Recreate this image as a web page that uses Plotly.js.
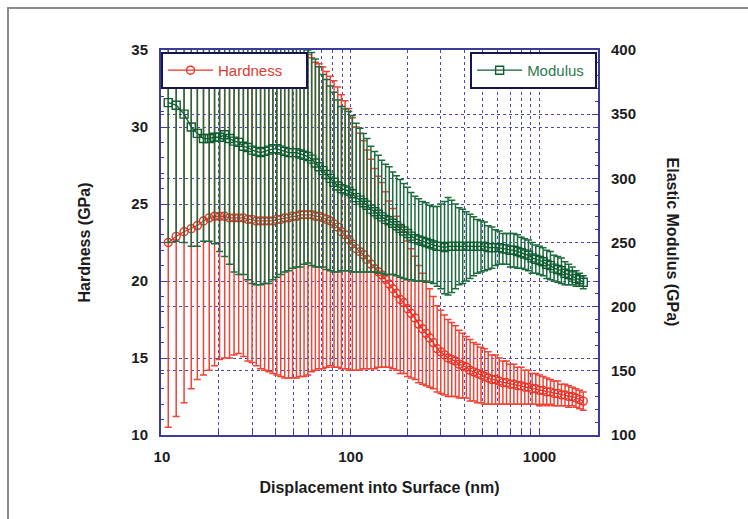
<!DOCTYPE html>
<html>
<head>
<meta charset="utf-8">
<script src="https://cdn.plot.ly/plotly-3.0.1.min.js"></script>
<style>
  html, body { margin:0; padding:0; background:#fff; overflow:hidden; }
  #chart { position:absolute; left:0; top:0; width:748px; height:519px; }
  #frame { position:absolute; left:7px; top:7px; width:900px; height:700px;
           border-top:2px solid #8c8c8c; border-left:2px solid #8c8c8c; pointer-events:none; }
</style>
</head>
<body>
<div id="chart"></div>
<div id="frame"></div>
<script>
// Displacement into surface (nm)
const displacement = [10.8,11.9,13.1,14.3,15.4,16.6,17.8,19.0,20.2,21.5,22.8,24.1,25.5,27.0,28.5,30.0,31.6,33.3,35.0,36.8,
  38.7,40.6,42.6,44.7,46.9,49.2,51.6,54.0,56.6,59.3,62.1,65.0,68.0,71.2,74.5,78.0,81.6,85.4,89.3,93.4,
  97.7,102,107,112,117,122,128,134,140,146,153,160,167,175,183,191,200,209,219,229,
  240,251,262,274,287,300,314,328,343,359,375,392,410,429,448,469,490,512,535,560,
  585,612,640,669,700,732,765,800,836,874,914,956,1000,1045,1093,1143,1195,1250,1307,1366,
  1428,1493,1561,1632,1706];

// Hardness (GPa) and its error
const hardness = [22.5,22.9,23.2,23.4,23.6,23.9,24.1,24.2,24.2,24.2,24.1,24.1,24.1,24.1,24.0,24.0,23.9,23.9,23.9,23.9,
  23.9,24.0,24.0,24.1,24.1,24.2,24.2,24.3,24.3,24.3,24.3,24.2,24.2,24.1,24.0,23.9,23.7,23.5,23.2,23.0,
  22.7,22.4,22.1,21.9,21.7,21.4,21.1,20.8,20.6,20.4,20.1,19.8,19.5,19.2,18.8,18.6,18.2,17.9,17.6,17.2,
  16.9,16.6,16.3,16.0,15.6,15.4,15.2,15.0,14.9,14.8,14.6,14.5,14.4,14.2,14.1,14.0,13.9,13.8,13.7,13.6,
  13.6,13.5,13.4,13.4,13.3,13.3,13.2,13.2,13.1,13.1,13.0,13.0,12.9,12.9,12.8,12.8,12.7,12.7,12.6,12.6,
  12.5,12.5,12.4,12.3,12.2];
const hardnessErr = [12.0,11.7,11.1,10.4,10.0,10.0,9.9,9.7,9.3,9.2,9.1,8.9,8.8,9.0,9.2,9.3,9.4,9.6,9.7,9.8,
  9.9,10.1,10.2,10.4,10.4,10.5,10.5,10.5,10.5,10.4,10.2,10.0,9.9,9.8,9.6,9.4,9.3,9.1,8.9,8.7,
  8.5,8.2,7.9,7.7,7.4,7.1,6.8,6.5,6.2,6.0,5.7,5.4,5.2,5.0,4.8,4.6,4.4,4.2,4.0,3.8,
  3.6,3.4,3.2,3.0,2.8,2.7,2.6,2.5,2.4,2.3,2.2,2.1,2.0,2.0,1.9,1.9,1.8,1.8,1.7,1.6,
  1.6,1.5,1.4,1.4,1.3,1.3,1.2,1.2,1.1,1.1,1.0,1.0,1.0,0.9,0.9,0.8,0.8,0.8,0.7,0.7,
  0.7,0.6,0.6,0.6,0.6];

// Elastic modulus (GPa) and its error
const modulus = [359,357,350,340,335,331,331,332,332,334,331,329,328,325,324,322,321,320,321,322,
  323,323,322,321,320,320,320,319,318,317,315,312,309,306,303,300,297,294,292,291,
  290,288,285,283,281,279,276,274,272,270,268,267,265,263,261,259,257,255,253,252,
  251,250,249,248,247,247,246,247,247,247,247,247,247,247,247,247,247,247,246,246,
  246,246,245,245,244,244,243,242,241,240,238,237,236,235,233,232,230,229,228,226,
  225,224,222,221,219];
const modulusErr = [109,106,100,93,88,80,80,83,89,95,98,102,103,100,103,104,104,103,103,104,
  102,100,97,94,92,90,89,88,85,83,83,81,78,75,74,72,70,67,64,63,
  62,61,58,56,54,52,49,47,46,44,43,42,40,39,38,37,36,34,33,32,
  31,31,30,30,31,33,36,38,36,33,30,29,27,25,23,21,20,19,17,16,
  14,13,12,12,13,13,13,12,12,12,12,11,11,11,11,11,10,10,10,9,
  8,7,6,5,5];

// Axis ticks
const xTickVals = [10,20,30,40,50,60,70,80,90,100,200,300,400,500,600,700,800,900,1000];
const xTickText = ['10','','','','','','','','','100','','','','','','','','','1000'];
const yLeftTicks = [10,15,20,25,30,35];
const yRightTicks = [100,150,200,250,300,350,400];

const RED = '#ea3326', RED_ERR = '#ef4436', GREEN = '#0f5e32', GREEN_ERR = '#1d6c3e';
const AXIS = '#3c3c9e', GRID = '#4a4ab4';
const tickFont = {family:'Arial, Liberation Sans, sans-serif', size:15, color:'#1c1c1c', weight:'bold'};
const titleFont = {family:'Arial, Liberation Sans, sans-serif', size:16, color:'#1c1c1c', weight:'bold'};

const traces = [
  { x: displacement, y: hardness, type:'scatter', mode:'none', showlegend:false, hoverinfo:'skip',
    error_y:{type:'data', array:hardnessErr, visible:true, color:RED_ERR, thickness:1.5, width:3.5} },
  { x: displacement, y: modulus, yaxis:'y2', type:'scatter', mode:'none', showlegend:false, hoverinfo:'skip',
    error_y:{type:'data', array:modulusErr, visible:true, color:GREEN_ERR, thickness:1.5, width:3.5} },
  { x: displacement, y: hardness, name:'Hardness', type:'scatter', mode:'lines+markers', legend:'legend',
    line:{color:RED, width:1.3},
    marker:{symbol:'circle-open', size:8, color:RED, line:{width:1.4, color:RED}} },
  { x: displacement, y: modulus, yaxis:'y2', name:'Modulus', type:'scatter', mode:'lines+markers', legend:'legend2',
    line:{color:GREEN, width:1.3},
    marker:{symbol:'square-open', size:8, color:GREEN, line:{width:1.4, color:GREEN}} }
];

const layout = {
  width:748, height:519,
  margin:{l:161, r:150, t:50, b:84},
  paper_bgcolor:'rgba(0,0,0,0)', plot_bgcolor:'#ffffff',
  showlegend:true,
  xaxis:{
    type:'log', range:[0.995, 3.31],
    tickmode:'array', tickvals:xTickVals, ticktext:xTickText,
    ticks:'inside', ticklen:5, tickcolor:AXIS, tickwidth:1,
    showgrid:true, gridcolor:GRID, griddash:'dot', gridwidth:1,
    showline:true, linecolor:AXIS, linewidth:2, mirror:true,
    tickfont:tickFont, ticklabelstandoff:7, zeroline:false,
    title:{text:'Displacement into Surface (nm)', font:titleFont, standoff:18}
  },
  yaxis:{
    range:[10,35], tickmode:'array', tickvals:yLeftTicks,
    ticks:'inside', ticklen:6, tickcolor:AXIS, tickwidth:1,
    minor:{dtick:1, ticks:'inside', ticklen:3, tickcolor:AXIS, showgrid:false},
    showgrid:true, gridcolor:GRID, griddash:'dot', gridwidth:1,
    showline:true, linecolor:AXIS, linewidth:2, zeroline:false,
    tickfont:tickFont, ticklabelstandoff:8,
    title:{text:'Hardness (GPa)', font:titleFont, standoff:37}
  },
  yaxis2:{
    overlaying:'y', side:'right', range:[100,400], tickmode:'array', tickvals:yRightTicks,
    ticks:'inside', ticklen:6, tickcolor:AXIS, tickwidth:1,
    minor:{dtick:10, ticks:'inside', ticklen:3, tickcolor:AXIS, showgrid:false},
    showgrid:true, gridcolor:GRID, griddash:'dot', gridwidth:1,
    showline:true, linecolor:AXIS, linewidth:2, zeroline:false,
    tickfont:tickFont, ticklabelstandoff:8
  },
  legend:{
    x:0, xanchor:'left', y:0.995, yanchor:'top', orientation:'h',
    entrywidth:83, entrywidthmode:'pixels',
    bgcolor:'#ffffff', bordercolor:'#16164a', borderwidth:2,
    font:{family:'Arial, Liberation Sans, sans-serif', size:15, color:'#e23a2e'},
    itemwidth:45
  },
  legend2:{
    x:0.998, xanchor:'right', y:0.995, yanchor:'top', orientation:'h',
    entrywidth:63, entrywidthmode:'pixels',
    bgcolor:'#ffffff', bordercolor:'#16164a', borderwidth:2,
    font:{family:'Arial, Liberation Sans, sans-serif', size:15, color:'#2a7a50'},
    itemwidth:45
  },
  annotations:[
    { text:'Elastic Modulus (GPa)', xref:'paper', yref:'paper', x:1.1716, y:0.50,
      xanchor:'center', yanchor:'middle', textangle:90, showarrow:false, font:titleFont }
  ]
};

Plotly.newPlot('chart', traces, layout, {displayModeBar:false, staticPlot:true});
</script>
</body>
</html>
